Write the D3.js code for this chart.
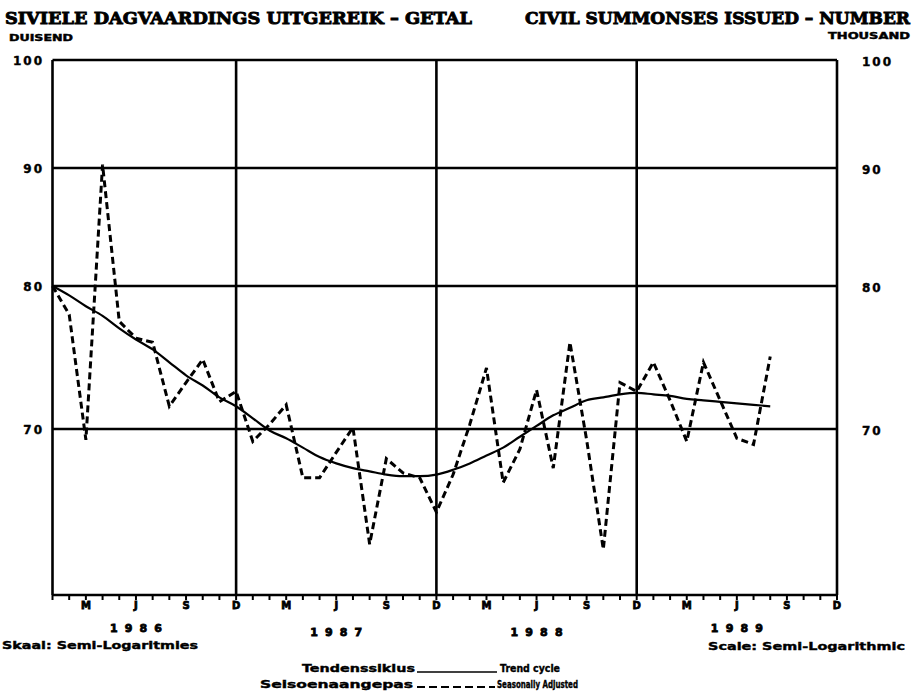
<!DOCTYPE html>
<html>
<head>
<meta charset="utf-8">
<script src="https://cdn.jsdelivr.net/npm/d3@7"></script>
<style>
  body { margin: 0; background: #fff; }
  text { font-family: "DejaVu Sans", sans-serif; font-weight: bold; fill: #000; stroke: #000; stroke-width: 0.4px; }
</style>
</head>
<body>
<script>
// months counted from Jan 1986 (index 0) to Aug 1989
var seasAdj = [80.0, 77.9, 69.3, 90.3, 77.4, 76.2, 75.9, 71.5, 73.1, 74.7, 71.8, 72.5,
               69.2, 70.3, 71.6, 66.9, 66.9, 68.5, 70.1, 62.9, 68.1, 67.2, 66.9, 64.8,
               67.1, 70.3, 74.1, 66.6, 68.7, 72.6, 67.5, 75.9, 69.3, 62.6, 73.1, 72.5,
               74.5, 71.9, 69.2, 74.5, 71.9, 69.4, 69.0, 74.9];
var trend = [80.0, 79.3, 78.5, 77.8, 76.9, 76.1, 75.4, 74.5, 73.6, 72.9, 72.1, 71.5,
             70.7, 69.9, 69.4, 68.8, 68.2, 67.8, 67.5, 67.3, 67.1, 67.0, 67.0, 67.1,
             67.4, 67.8, 68.3, 68.8, 69.5, 70.2, 70.9, 71.4, 71.9, 72.1, 72.3, 72.4,
             72.3, 72.2, 72.0, 71.9, 71.8, 71.7, 71.6, 71.5];
var yTicks = [100, 90, 80, 70];
var years = ["1986", "1987", "1988", "1989"];
var quarterLetters = ["M", "J", "S", "D"];
var nMonths = 48;

var svg = d3.select("body")
    .append("svg")
    .attr("width", 915)
    .attr("height", 698);

var x = d3.scaleLinear()
    .domain([0, nMonths - 1])
    .range([52.5, 837]);

// semi-log chart, hand drawn grid so piecewise between the grid lines
var y = d3.scaleLog()
    .domain([60, 70, 80, 90, 100])
    .range([595, 429, 286, 168, 60]);

// titles
svg.append("text")
    .attr("x", 5).attr("y", 24)
    .attr("textLength", 467).attr("lengthAdjust", "spacingAndGlyphs")
    .style("font-family", "'DejaVu Serif', serif")
    .style("font-size", "17px")
    .style("stroke-width", "0.9px")
    .text("SIVIELE DAGVAARDINGS UITGEREIK – GETAL");
svg.append("text")
    .attr("x", 9).attr("y", 41)
    .attr("textLength", 64).attr("lengthAdjust", "spacingAndGlyphs")
    .style("font-size", "8px")
    .text("DUISEND");
svg.append("text")
    .attr("x", 910).attr("y", 24)
    .attr("text-anchor", "end")
    .attr("textLength", 385).attr("lengthAdjust", "spacingAndGlyphs")
    .style("font-family", "'DejaVu Serif', serif")
    .style("font-size", "17px")
    .style("stroke-width", "0.9px")
    .text("CIVIL SUMMONSES ISSUED – NUMBER");
svg.append("text")
    .attr("x", 910).attr("y", 39)
    .attr("text-anchor", "end")
    .attr("textLength", 82).attr("lengthAdjust", "spacingAndGlyphs")
    .style("font-size", "8px")
    .text("THOUSAND");

// grid
var grid = svg.append("g").attr("stroke", "#000").attr("stroke-width", 2.6);

grid.selectAll("line.h")
    .data(yTicks.concat([60]))
    .enter()
    .append("line")
    .attr("x1", x(0)).attr("x2", x(nMonths - 1))
    .attr("y1", function (d) { return y(d); })
    .attr("y2", function (d) { return y(d); });

grid.selectAll("line.v")
    .data([0, 11, 23, 35, 47])
    .enter()
    .append("line")
    .attr("x1", function (d) { return x(d); })
    .attr("x2", function (d) { return x(d); })
    .attr("y1", y(100)).attr("y2", y(60));

// y labels both sides
svg.append("g")
    .selectAll("text")
    .data(yTicks)
    .enter()
    .append("text")
    .attr("x", 44)
    .attr("y", function (d) { return y(d) + 5; })
    .attr("text-anchor", "end")
    .style("font-size", "12px")
    .style("letter-spacing", "2px")
    .text(function (d) { return d; });

svg.append("g")
    .selectAll("text")
    .data(yTicks)
    .enter()
    .append("text")
    .attr("x", 862)
    .attr("y", function (d) { return y(d) + 6; })
    .style("font-size", "12px")
    .style("letter-spacing", "2px")
    .text(function (d) { return d; });

// month ticks
var months = d3.range(nMonths);
svg.append("g")
    .selectAll("line")
    .data(months)
    .enter()
    .append("line")
    .attr("x1", function (d) { return x(d); })
    .attr("x2", function (d) { return x(d); })
    .attr("y1", y(60)).attr("y2", y(60) + 5)
    .attr("stroke", "#000").attr("stroke-width", 2);

svg.append("g")
    .selectAll("text")
    .data(months.filter(function (d) { return d % 3 == 2; }))
    .enter()
    .append("text")
    .attr("x", function (d) { return x(d); })
    .attr("y", y(60) + 14)
    .attr("text-anchor", "middle")
    .style("font-size", "10px")
    .style("stroke-width", "0.8px")
    .text(function (d) { return quarterLetters[(d % 12 - 2) / 3]; });

svg.append("g")
    .selectAll("text")
    .data(years)
    .enter()
    .append("text")
    .attr("x", function (d, i) { return x(i * 12 + 5); })
    .attr("y", function (d, i) { return i == 0 || i == 3 ? 632 : 636; })
    .attr("text-anchor", "middle")
    .attr("textLength", 52).attr("lengthAdjust", "spacing")
    .style("font-size", "11px")
    .style("stroke-width", "0.8px")
    .text(function (d) { return d; });

svg.append("text")
    .attr("x", 2).attr("y", 649)
    .attr("textLength", 196).attr("lengthAdjust", "spacingAndGlyphs")
    .style("font-size", "11px")
    .text("Skaal: Semi-Logaritmies");
svg.append("text")
    .attr("x", 708).attr("y", 650)
    .attr("textLength", 197).attr("lengthAdjust", "spacingAndGlyphs")
    .style("font-size", "11px")
    .text("Scale: Semi-Logarithmic");

// series
var line = d3.line()
    .x(function (d, i) { return x(i); })
    .y(function (d) { return y(d); });

svg.append("path")
    .datum(trend)
    .attr("d", line.curve(d3.curveMonotoneX))
    .attr("fill", "none")
    .attr("stroke", "#000")
    .attr("stroke-width", 2.2);

svg.append("path")
    .datum(seasAdj)
    .attr("d", line.curve(d3.curveLinear))
    .attr("fill", "none")
    .attr("stroke", "#000")
    .attr("stroke-width", 3)
    .attr("stroke-dasharray", "7,4");

// legend
svg.append("text")
    .attr("x", 415).attr("y", 672)
    .attr("text-anchor", "end")
    .attr("textLength", 113).attr("lengthAdjust", "spacingAndGlyphs")
    .style("font-size", "11px")
    .text("Tendenssiklus");
svg.append("line")
    .attr("x1", 417).attr("x2", 497)
    .attr("y1", 672).attr("y2", 672)
    .attr("stroke", "#000").attr("stroke-width", 1.6);
svg.append("text")
    .attr("x", 500).attr("y", 672)
    .attr("textLength", 60).attr("lengthAdjust", "spacingAndGlyphs")
    .style("font-size", "11px")
    .text("Trend cycle");

svg.append("text")
    .attr("x", 413).attr("y", 688)
    .attr("text-anchor", "end")
    .attr("textLength", 153).attr("lengthAdjust", "spacingAndGlyphs")
    .style("font-size", "11px")
    .text("Seisoenaangepas");
svg.append("line")
    .attr("x1", 417).attr("x2", 495)
    .attr("y1", 687).attr("y2", 687)
    .attr("stroke", "#000").attr("stroke-width", 2)
    .attr("stroke-dasharray", "8,4");
svg.append("text")
    .attr("x", 497).attr("y", 688)
    .attr("textLength", 81).attr("lengthAdjust", "spacingAndGlyphs")
    .style("font-size", "11px")
    .text("Seasonally Adjusted");
</script>
</body>
</html>
